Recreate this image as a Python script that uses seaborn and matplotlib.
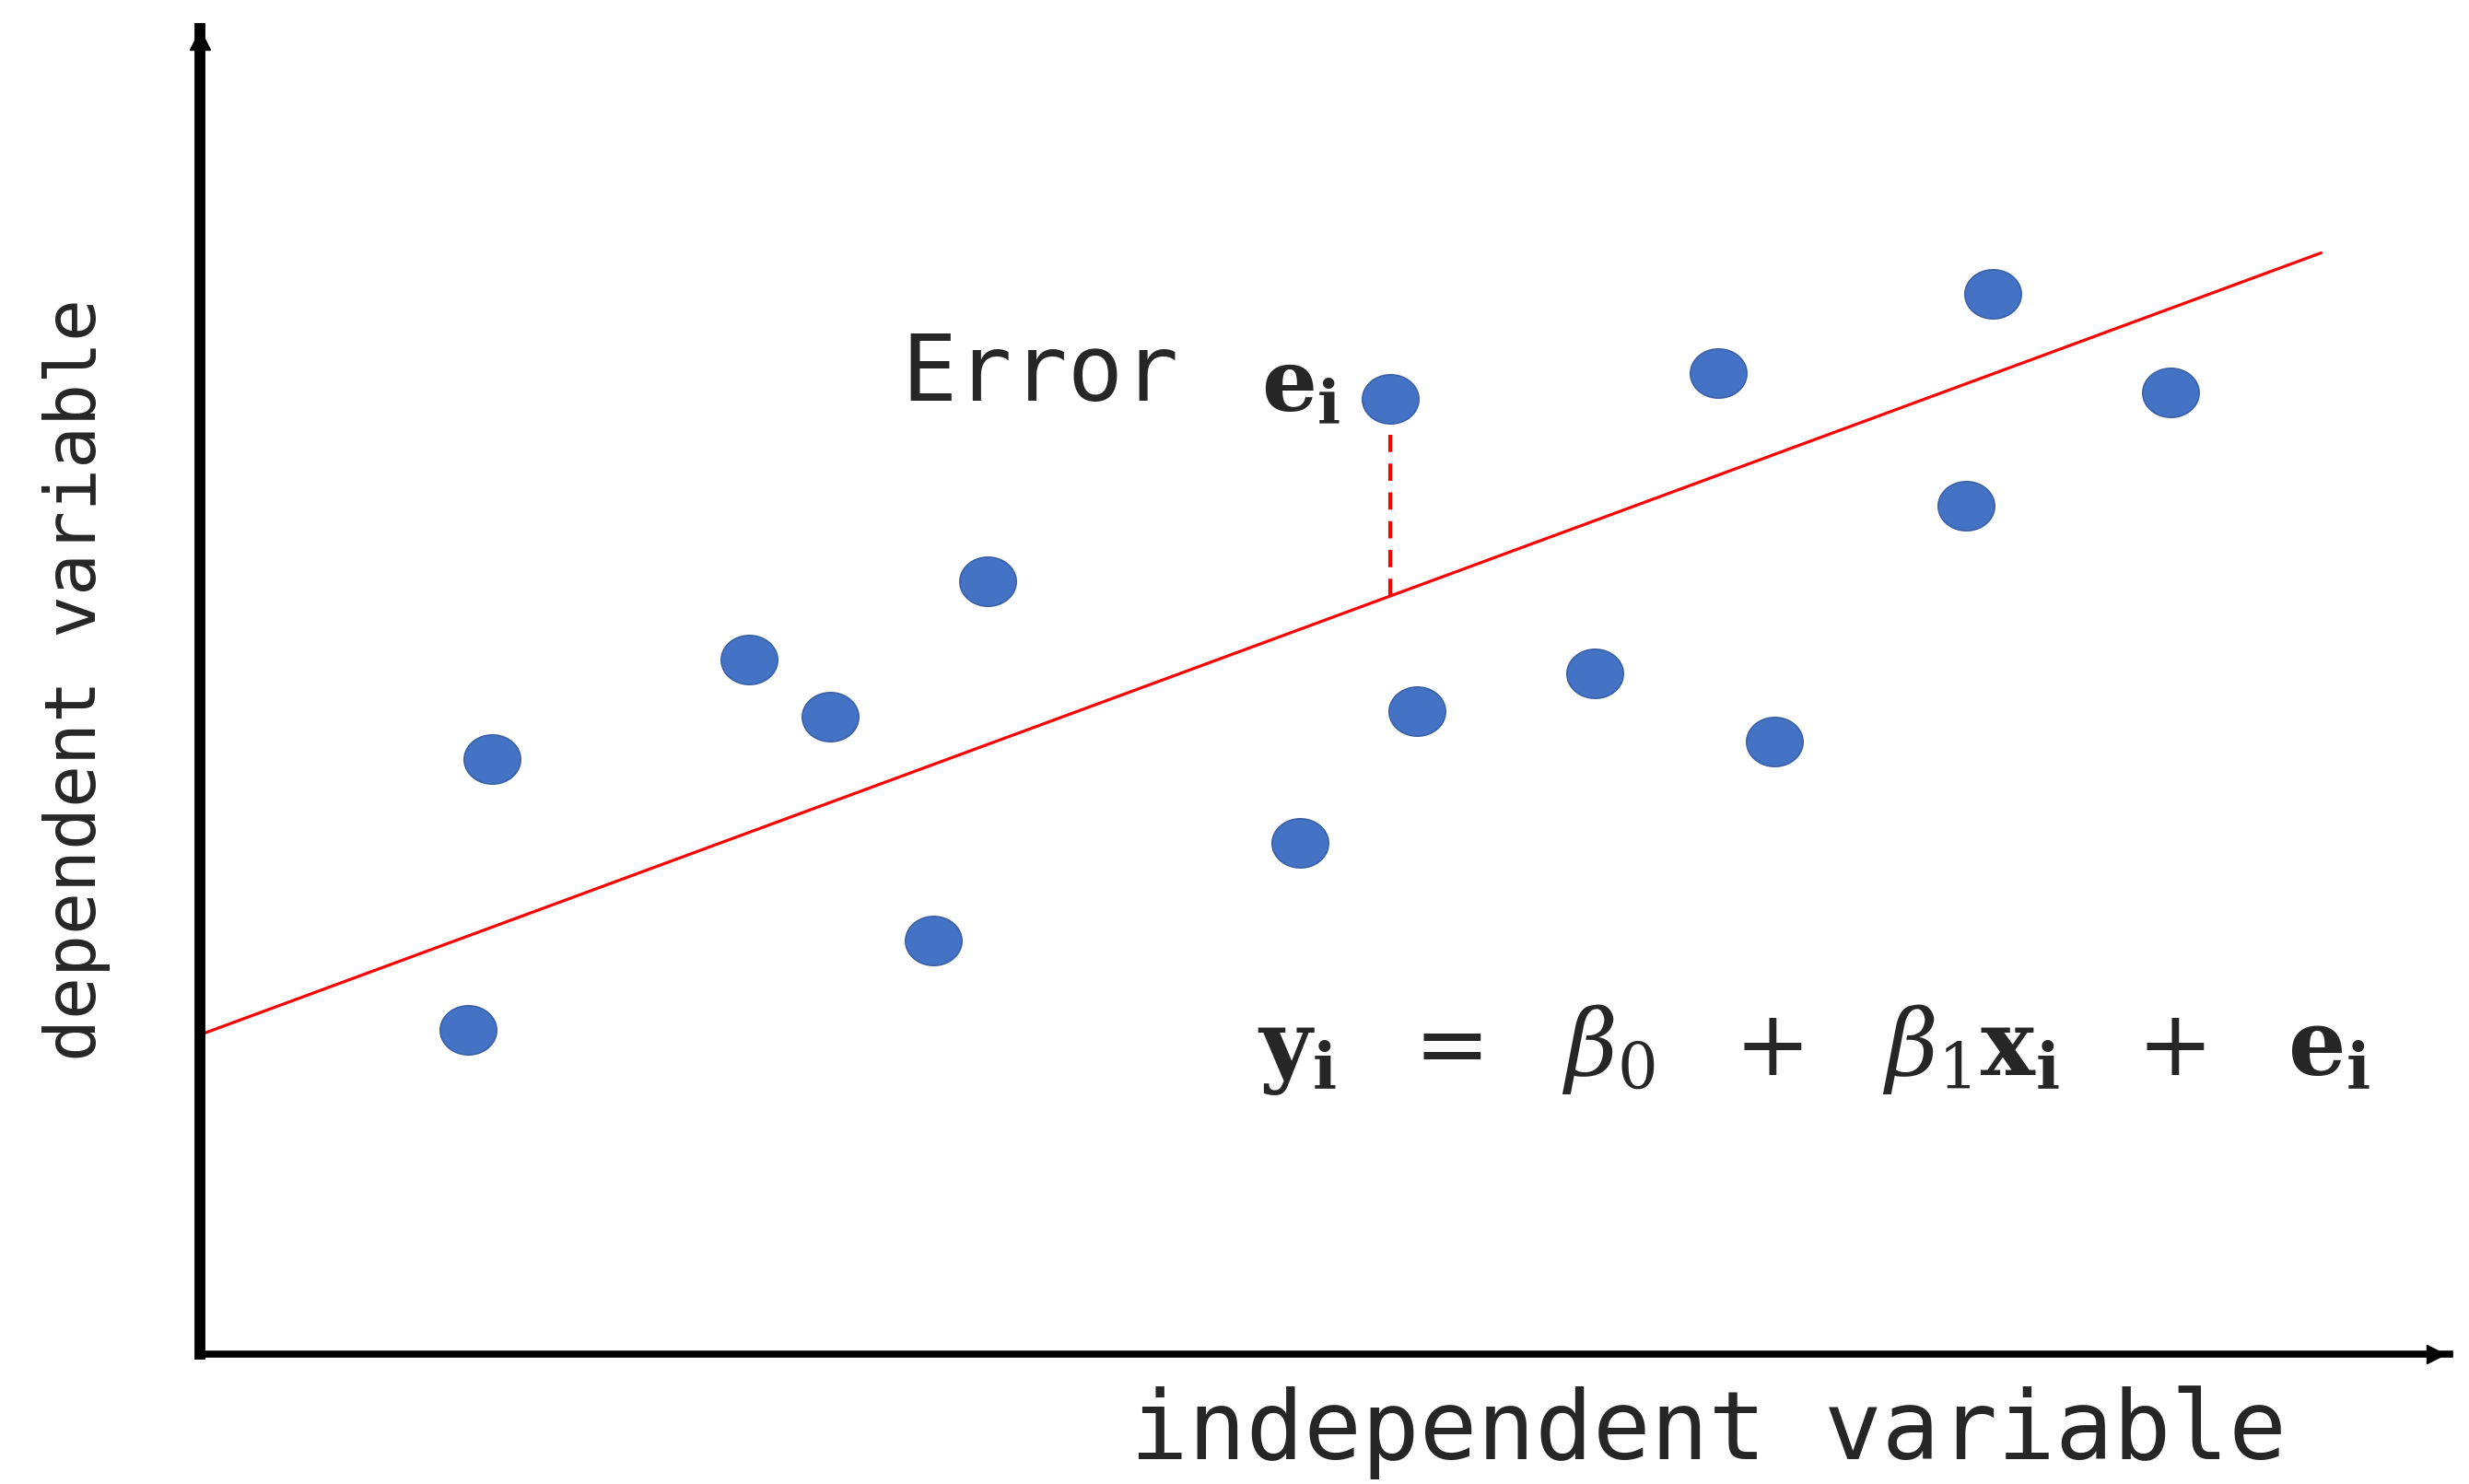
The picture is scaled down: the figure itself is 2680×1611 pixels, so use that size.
import numpy as np
import pandas as pd
import seaborn as sns
import matplotlib.pyplot as plt
from matplotlib.path import Path

# observed points (arbitrary units, axis runs 0..100)
x_obs = [11.9, 13.0, 24.4, 28.0, 32.6, 35.0, 48.9, 52.9, 54.1, 62.0, 67.5, 70.0, 78.5, 79.7, 87.6]
y_obs = [24.5, 44.9, 52.4, 48.1, 31.2, 58.3, 38.6, 72.1, 48.5, 51.4, 74.0, 46.2, 64.0, 80.0, 72.6]

# regression line end points
fit_x = [0.0, 94.3]
fit_y = [24.1, 83.1]

# residual shown for one point
err_x = [52.9, 52.9]
err_y = [57.2, 70.0]

x_label = "independent variable"
y_label = "dependent variable"
err_text = "Error"
equation = (r"$\mathbf{y}_\mathbf{i}\ \ =\ \ \beta_0\ \ +\ \ \beta_1\mathbf{x}_\mathbf{i}"
            r"\ \ +\ \ \mathbf{e}_\mathbf{i}$")

sns.set_style("white")
plt.rcParams["mathtext.fontset"] = "dejavuserif"
mono = ["DejaVu Sans Mono", "DejaVu Sans"]

fig = plt.figure(figsize=(26.8, 16.11), dpi=100)
ax = fig.add_axes([0.081, 0.0875, 0.911, 0.893])

df = pd.DataFrame({"x": x_obs, "y": y_obs})

# slightly flattened dot like the original
t = np.linspace(0, 2 * np.pi, 60)
oval = Path(np.column_stack([np.cos(t), 0.87 * np.sin(t)]))

sns.lineplot(x=fit_x, y=fit_y, ax=ax, color="red", lw=2.3, zorder=2)
ax.plot(err_x, err_y, color="red", lw=3, ls=(0, (4.5, 3)), zorder=2)
sns.scatterplot(data=df, x="x", y="y", ax=ax, marker=oval, s=1950,
                color="#4472c4", edgecolor="#3b62a8", linewidth=1.2, zorder=3)

ax.set_xlim(0, 100)
ax.set_ylim(0, 100)
ax.set_xticks([])
ax.set_yticks([])
ax.set_xlabel("")
ax.set_ylabel("")
for s in ["top", "right"]:
    ax.spines[s].set_visible(False)
ax.spines["left"].set_linewidth(8.5)
ax.spines["bottom"].set_linewidth(5.5)
ax.spines["left"].set_color("black")
ax.spines["bottom"].set_color("black")
ax.plot(0, 99.2, marker="^", color="black", ms=16, clip_on=False, zorder=5)
ax.plot(99.4, 0, marker=">", color="black", ms=14, clip_on=False, zorder=5)

ax.text(31.2, 73.9, err_text, family=mono, fontsize=72, va="center", ha="left")
ax.text(47.2, 73.0, r"$\mathbf{e}_\mathbf{i}$", fontsize=68, va="center", ha="left")
ax.text(47.0, 23.0, equation, fontsize=71, va="center", ha="left")

fig.text(0.458, 0.035, x_label, family=mono, fontsize=75, va="center", ha="left")
fig.text(0.031, 0.542, y_label, family=mono, fontsize=55, va="center", ha="center",
         rotation=90)

fig.savefig("out.png", dpi=100)
